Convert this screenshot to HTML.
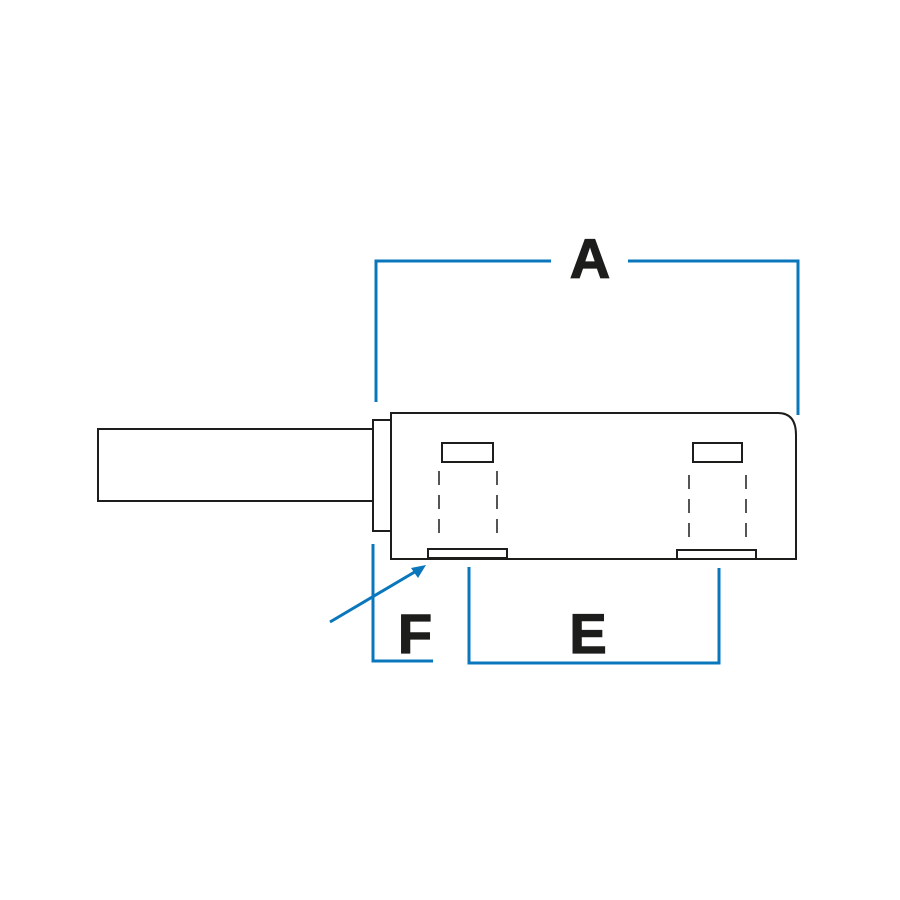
<!DOCTYPE html>
<html><head><style>html,body{margin:0;padding:0;background:#fff}svg{display:block}</style></head><body>
<svg width="900" height="900" viewBox="0 0 900 900" xmlns="http://www.w3.org/2000/svg">
<g fill="none" stroke="#1d1d1b" stroke-width="2">
<rect x="98" y="429" width="275" height="72"/>
<rect x="373" y="420" width="18" height="111"/>
<path d="M391 559 V413 H778 Q796 413 796 435 V559 Z"/>
<rect x="442" y="443" width="51" height="19"/>
<rect x="693" y="443" width="49" height="19"/>
<rect x="428" y="549" width="79" height="9"/>
<rect x="677" y="550" width="79" height="9"/>
</g>
<g stroke="#1d1d1b" stroke-width="1.5" stroke-dasharray="14 10">
<line x1="439" y1="471" x2="439" y2="540"/>
<line x1="497" y1="471" x2="497" y2="540"/>
<line x1="689" y1="475" x2="689" y2="542"/>
<line x1="746" y1="475" x2="746" y2="542"/>
</g>
<g fill="none" stroke="#0a77bd" stroke-width="3">
<polyline points="376,402 376,261 551,261"/>
<polyline points="628,261 798,261 798,415"/>
<polyline points="373,544 373,661 433,661"/>
<polyline points="469,567 469,663 719,663 719,568"/>
<line x1="330" y1="622" x2="418" y2="570"/>
</g>
<polygon points="426,565 411,568 418,578" fill="#0a77bd"/>
<g font-family="Liberation Sans, sans-serif" font-weight="bold" font-size="56" fill="#1d1d1b" stroke="#1d1d1b" stroke-width="1.2" text-anchor="middle">
<text x="590" y="278">A</text>
<text x="415" y="653">F</text>
<text x="588" y="653">E</text>
</g>
</svg>
</body></html>
